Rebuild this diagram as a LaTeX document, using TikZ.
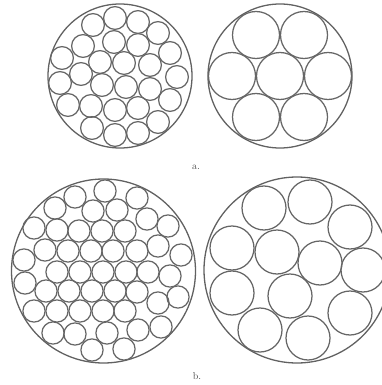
\documentclass[tikz,border=0pt]{standalone}
\begin{document}
\begin{tikzpicture}[x=1pt,y=-1pt,
  wire/.style={draw=black!60,line width=1.25pt},
  outer/.style={draw=black!62,line width=1.3pt},
  lbl/.style={font=\fontsize{10}{11}\selectfont,text=black!70,inner sep=0pt}]
\useasboundingbox (0,0) rectangle (382,385);
\clip (0,0) rectangle (382,385);
% ---- a. left: 27 wires
\draw[outer] (120,76) circle (72);
\foreach \x/\y in {115/18,138/22,93/25,158/33,114/42,138/45,83/46,170/53,62/58,100/62,124/63,150/65,81/74,177/77,60/83,102/85,126/87,150/89,68/105,91/106,170/100,115/110,138/108,158/122,92/128,115/135,138/133}
  \draw[wire] (\x,\y) circle (11.4);
% ---- a. right: 7 wires
\draw[outer] (280,76) circle (72);
\foreach \x/\y in {256/35,304/35,232/76,280/76,328/76,256/117,304/117}
  \draw[wire] (\x,\y) circle (23.5);
% ---- b. left: 47 wires
\draw[outer] (103.5,271) circle (92);
\foreach \x/\y in {75/197,105/191,137/198,
  55/208,93/211,117/210,147/219,168/226,
  34/228,57/230,79/231,102/231,125/231,
  45/250,68/251,91/251,113/251,137/251,158/246,181/255,
  24/260,
  57/272,80/272,103/272,126/272,148/272,170/276,
  25/283,46/291,69/291,92/291,115/291,137/292,158/303,178/297,
  34/311,57/311,80/311,103/311,125/311,
  53/333,75/334,107/333,138/330,161/327,
  92/350,124/349}
  \draw[wire] (\x,\y) circle (11.1);
% ---- b. right: 12 wires
\draw[outer] (297,270) circle (93);
\foreach \x/\y in {264/208,310/202,350/227,232/248,277/252,320/263,363/270,232/293,290/296,350/313,260/330,308/338}
  \draw[wire] (\x,\y) circle (22);
% ---- labels
\node[lbl] (la) at (196,167) {a.};
\node[lbl] (lb) at (197,376) {b.};
\end{tikzpicture}
\end{document}
